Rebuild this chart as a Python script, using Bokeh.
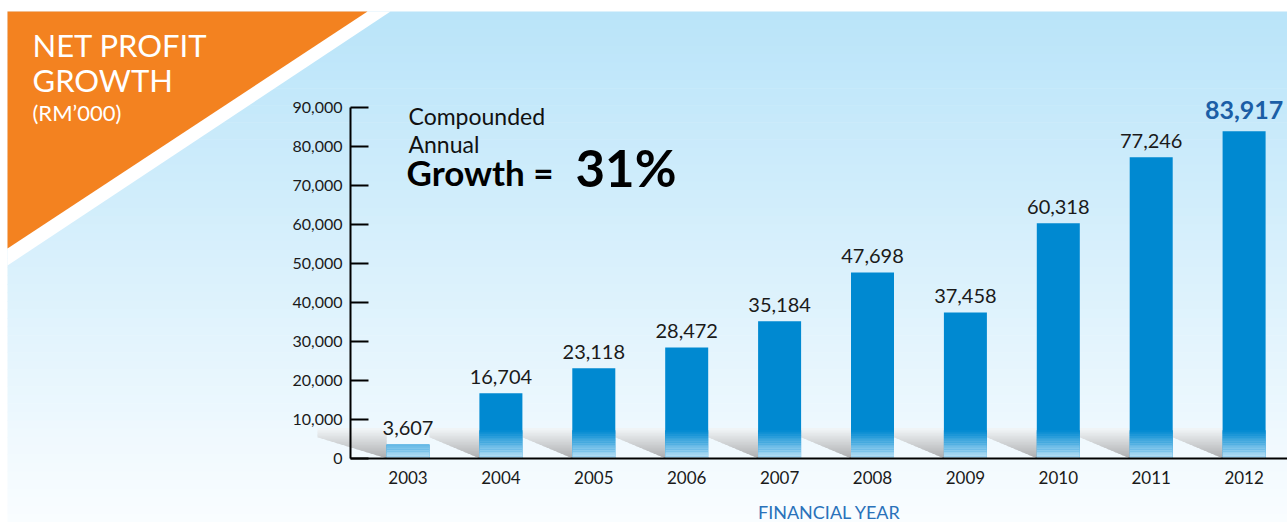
import numpy as np
from bokeh.plotting import figure
from bokeh.models import Range1d, FixedTicker, Label, PolyAnnotation, BoxAnnotation
from bokeh.core.properties import value
from bokeh.embed import file_html
from bokeh.resources import INLINE

# ---------------- data ----------------
years = [2003, 2004, 2005, 2006, 2007, 2008, 2009, 2010, 2011, 2012]
profit = [3607, 16704, 23118, 28472, 35184, 47698, 37458, 60318, 77246, 83917]
profit_labels = ["3,607", "16,704", "23,118", "28,472", "35,184",
                 "47,698", "37,458", "60,318", "77,246", "83,917"]
y_ticks = [0, 10000, 20000, 30000, 40000, 50000, 60000, 70000, 80000, 90000]
y_tick_labels = ["0", "10,000", "20,000", "30,000", "40,000",
                 "50,000", "60,000", "70,000", "80,000", "90,000"]
x_tick_labels = [str(y) for y in years]
title_lines = ["NET PROFIT", "GROWTH"]
subtitle = "(RM\u2019000)"
cagr_small = ["Compounded", "Annual"]
cagr_big = ["Growth =", "31%"]
x_axis_title = "FINANCIAL YEAR"

# ---------------- geometry ----------------
W, H = 1287, 522
AX_X, FB = 350, 458                   # y-axis position / zero line in px
PX_PER_YEAR = 92.9
PX_PER_UNIT = 351.0 / 90000.0
x_axis_at = 2003 - (407.5 - AX_X) / PX_PER_YEAR
xr0 = x_axis_at - AX_X / PX_PER_YEAR
xr1 = xr0 + W / PX_PER_YEAR
yr0 = -(H - FB) / PX_PER_UNIT
yr1 = FB / PX_PER_UNIT
BAR_W = 43 / PX_PER_YEAR
BASE_K = 0.42   # baseline correction (fraction of font size)


def sx(x):  # data x -> canvas px
    return (x - xr0) * PX_PER_YEAR


def sy(y):  # data y -> canvas px
    return FB - y * PX_PER_UNIT


FONT = "Lato"
CU = dict(x_units="canvas", y_units="canvas")


def label(x, base, text, fs, color, bold=False, align="left"):
    return Label(x=x, y=base - BASE_K * fs, text=text, text_font=FONT, **CU,
                 text_font_size="%dpx" % fs, text_color=color, text_align=align,
                 text_font_style="bold" if bold else "normal",
                 text_baseline="alphabetic")


def hexc(c):
    return "#%02x%02x%02x" % tuple(int(round(v)) for v in c)


p = figure(width=W, height=H, x_range=Range1d(xr0, xr1), y_range=Range1d(yr0, yr1),
           output_backend="svg", toolbar_location=None, title=None, min_border=0)
p.border_fill_color = "white"
p.background_fill_color = "white"
p.outline_line_color = None
p.xgrid.visible = False
p.ygrid.visible = False

# ---------------- background ----------------
top_c = np.array([185, 228, 249])
bot_c = np.array([250, 253, 255])
n_strips = 60
y_start = 11
for i in range(n_strips):
    a = y_start + (H - y_start) * i / n_strips
    b = y_start + (H - y_start) * (i + 1) / n_strips + 0.6
    t = (i + 0.5) / n_strips
    c = top_c * (1 - t) + bot_c * t
    p.add_layout(BoxAnnotation(left=7, right=W + 2, top=a, bottom=b,
                               left_units="canvas", right_units="canvas",
                               top_units="canvas", bottom_units="canvas",
                               fill_color=hexc(c), fill_alpha=1,
                               line_color=None, level="underlay"))

# white diagonal band and orange corner triangle
p.add_layout(PolyAnnotation(xs=[7, 390, 7], ys=[11, 11, 265], xs_units="canvas", ys_units="canvas",
                            fill_color="white", fill_alpha=1, line_color=None, level="underlay"))
p.add_layout(PolyAnnotation(xs=[7, 367, 7], ys=[11, 11, 248], xs_units="canvas", ys_units="canvas",
                            fill_color="#F38220", fill_alpha=1, line_color=None, level="underlay"))

# ---------------- floor shadows ----------------
SH_PX = 30      # total shadow height in px
HYP_PX = 21     # height where the slanted edge starts
n_sh = 20
gap = 1 - BAR_W
light_g = np.array([242, 246, 248])
dark_g = np.array([172, 173, 175])
for i, yr in enumerate(years):
    xl = yr - BAR_W / 2
    L = (69 / PX_PER_YEAR) if i == 0 else gap
    for k in range(n_sh):
        pa = SH_PX * k / n_sh
        pb = SH_PX * (k + 1) / n_sh
        t = (k + 0.5) / n_sh
        c = dark_g * (1 - t) + light_g * t
        la = xl - L * min(pa, HYP_PX) / HYP_PX
        lb = xl - L * min(pb, HYP_PX) / HYP_PX
        xs = [la, xl + 0.002, xl + 0.002, lb]
        ys = [pa / PX_PER_UNIT, pa / PX_PER_UNIT, (pb + 0.5) / PX_PER_UNIT, (pb + 0.5) / PX_PER_UNIT]
        p.add_layout(PolyAnnotation(
            xs=[sx(v) for v in xs], ys=[sy(v) for v in ys],
            xs_units="canvas", ys_units="canvas",
            fill_color=hexc(c), fill_alpha=1, line_color=None, level="underlay"))

# ---------------- bars ----------------
BLUE = "#0089D1"
p.vbar(x=years, top=profit, width=BAR_W, fill_color=BLUE, line_color=None)

BAND = 28 / PX_PER_UNIT
n_band = 16
light_b = np.array([192, 228, 248])
blue_b = np.array([0, 137, 209])
prof = np.array(profit, dtype=float)
for k in range(n_band):
    ya = BAND * k / n_band
    yb = BAND * (k + 1) / n_band + BAND * 0.01
    t = (k + 0.5) / n_band
    c = light_b * (1 - t) + blue_b * t
    p.vbar(x=years, bottom=np.minimum(prof, ya), top=np.minimum(prof, yb), width=BAR_W,
           fill_color=hexc(c), line_color=None)

# value labels
p.text(x=years[:-1], y=profit[:-1], text=profit_labels[:-1], text_align="center",
       text_baseline="alphabetic", y_offset=-(8 + BASE_K * 20), text_font=value(FONT),
       text_font_size="20px", text_color="#1a1a1a")
p.text(x=years[-1:], y=profit[-1:], text=profit_labels[-1:], text_align="center",
       text_baseline="alphabetic", y_offset=-(11 + BASE_K * 25), text_font=value(FONT),
       text_font_size="25px", text_font_style="bold", text_color="#1B5EA6")

# ---------------- axes (fixed inside the full-canvas frame) ----------------
ya_ = p.yaxis[0]
ya_.fixed_location = x_axis_at
ya_.ticker = FixedTicker(ticks=y_ticks)
ya_.major_label_overrides = {t: l for t, l in zip(y_ticks, y_tick_labels)}
ya_.bounds = (y_ticks[0], y_ticks[-1])
ya_.axis_line_width = 2
ya_.axis_line_color = "black"
ya_.major_tick_in = 18
ya_.major_tick_out = 0
ya_.major_tick_line_width = 2
ya_.major_tick_line_color = "black"
ya_.minor_tick_line_color = None
ya_.major_label_standoff = 8
ya_.major_label_text_font = FONT
ya_.major_label_text_font_size = "16px"
ya_.major_label_text_color = "#1a1a1a"

xa = p.xaxis[0]
xa.fixed_location = 0
xa.ticker = FixedTicker(ticks=years)
xa.major_label_overrides = {y: l for y, l in zip(years, x_tick_labels)}
xa.bounds = (x_axis_at, xr1)
xa.axis_line_width = 2
xa.axis_line_color = "black"
xa.major_tick_line_color = None
xa.minor_tick_line_color = None
xa.major_label_standoff = 6
xa.major_label_text_font = FONT
xa.major_label_text_font_size = "17px"
xa.major_label_text_color = "#1a1a1a"

# ---------------- texts ----------------
p.add_layout(label(32, 58, title_lines[0], 31, "white"))
p.add_layout(label(32, 93, title_lines[1], 31, "white"))
p.add_layout(label(32, 121, subtitle, 22, "white"))

p.add_layout(label(408, 125, cagr_small[0], 23, "#111111"))
p.add_layout(label(408, 153, cagr_small[1], 23, "#111111"))
p.add_layout(label(406, 186, cagr_big[0], 35, "#000000", bold=True))
p.add_layout(label(575, 188, cagr_big[1], 51, "#000000", bold=True))

p.add_layout(label(829, 519, x_axis_title, 18, "#2A72BA", align="center"))

open("out.html", "w").write(file_html(p, INLINE))
